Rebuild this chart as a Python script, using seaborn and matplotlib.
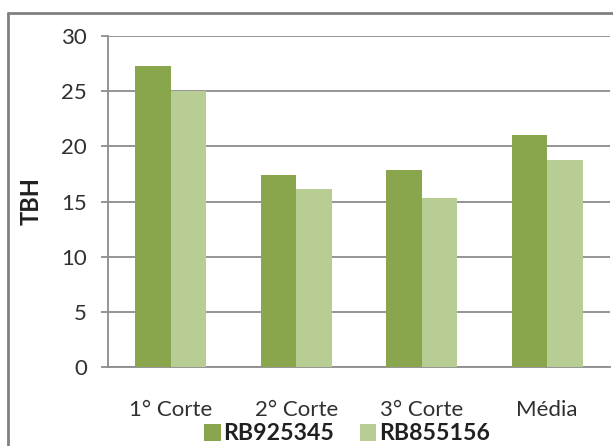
import matplotlib
matplotlib.use("Agg")
import matplotlib.pyplot as plt
from matplotlib.lines import Line2D
import seaborn as sns
import pandas as pd

# TBH por corte e média para as duas variedades
categorias = ["1° Corte", "2° Corte", "3° Corte", "Média"]
variedades = ["RB925345", "RB855156"]
rb925345 = [27.3, 17.4, 17.9, 21.0]
rb855156 = [25.0, 16.1, 15.3, 18.8]
y_ticks = [0, 5, 10, 15, 20, 25, 30]

cores = {"RB925345": "#8AA64D", "RB855156": "#B8CD94"}

df = pd.DataFrame({
    "Corte": categorias * 2,
    "Variedade": [variedades[0]] * len(categorias) + [variedades[1]] * len(categorias),
    "TBH": rb925345 + rb855156,
})

sns.set_style("white")
plt.rcParams["font.family"] = ["Lato", "DejaVu Sans"]

W, H = 613, 446
fig = plt.figure(figsize=(W / 100, H / 100), dpi=100)
ax = fig.add_axes([108 / W, 1 - 367 / H, (610 - 108) / W, (367 - 36) / H])

sns.barplot(data=df, x="Corte", y="TBH", hue="Variedade", palette=cores,
            width=0.565, gap=0, saturation=1, ax=ax, linewidth=0,
            legend=True, zorder=3)

ax.set_ylim(0, 30)
ax.set_xlim(-0.5, len(categorias) - 0.5)
ax.set_yticks(y_ticks)
ax.set_yticklabels([str(t) for t in y_ticks])
ax.yaxis.grid(True, color="#8C8C8C", linewidth=1.3, zorder=0)
ax.set_axisbelow(True)

for s in ["top", "right"]:
    ax.spines[s].set_visible(False)
ax.spines["left"].set_color("#8C8C8C")
ax.spines["left"].set_linewidth(1.3)
ax.spines["bottom"].set_color("#8C8C8C")
ax.spines["bottom"].set_linewidth(1.3)

ax.tick_params(axis="y", left=True, length=5, width=1.3, color="#8C8C8C",
               pad=10, labelsize=16, labelcolor="#303030")
ax.tick_params(axis="x", bottom=False, pad=20, labelsize=16, labelcolor="#303030")

ax.set_xlabel("")
ax.set_ylabel("TBH", fontsize=17, fontweight="bold", color="#202020")
ax.yaxis.set_label_coords(-(108 - 43) / (610 - 108), 0.5)

handles, labels = ax.get_legend_handles_labels()
ax.legend_.remove()
leg = fig.legend(handles, labels, loc="center", bbox_to_anchor=(347 / W, 1 - 434 / H),
                 ncol=2, frameon=False, handlelength=0.72, handleheight=0.72,
                 handletextpad=0.12, columnspacing=1.1, borderpad=0,
                 prop={"family": ["Lato", "DejaVu Sans"], "weight": "bold", "size": 16.7})
for t in leg.get_texts():
    t.set_color("#202020")

# moldura cinza do gráfico
fig.add_artist(Line2D([8 / W, 1.0], [1 - 13 / H, 1 - 13 / H], color="#808080",
                      linewidth=2, transform=fig.transFigure))
fig.add_artist(Line2D([8 / W, 8 / W], [0.0, 1 - 13 / H], color="#808080",
                      linewidth=2, transform=fig.transFigure))

fig.savefig("out.png", dpi=100)
